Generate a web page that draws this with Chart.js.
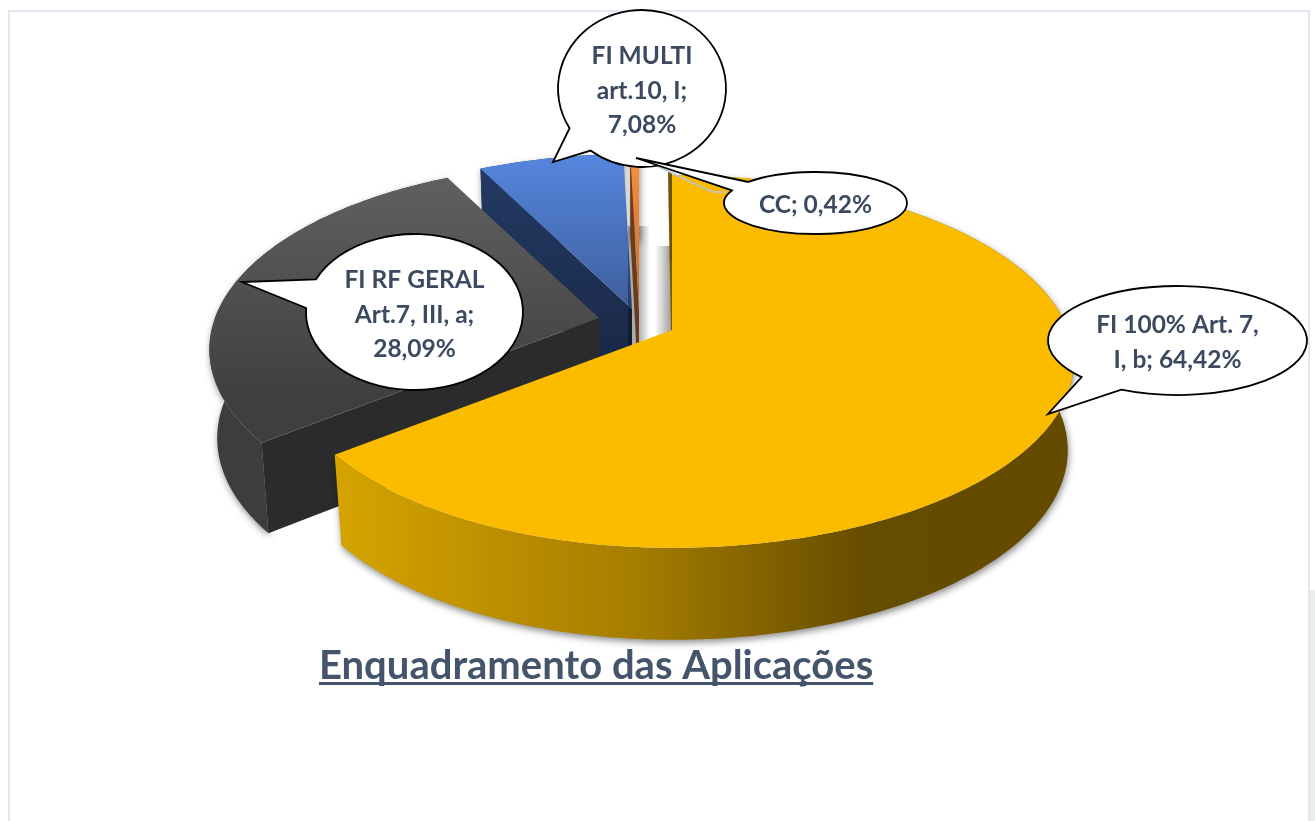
<!DOCTYPE html>
<html>
<head>
<meta charset="utf-8">
<title>Enquadramento das Aplicações</title>
<script src="https://cdn.jsdelivr.net/npm/chart.js@4"></script>
<style>
  html, body { margin: 0; padding: 0; background: #fff; overflow: hidden; }
  #wrap { position: relative; width: 1315px; height: 821px; }
  #frame { position: absolute; left: 8px; top: 10px; width: 1302px; height: 811px; border: solid #e4e7f2; border-width: 2px 2px 0 2px; box-sizing: border-box; }
  #edge { position: absolute; left: 1310px; top: 590px; width: 5px; height: 231px; background: #e8efea; }
  canvas { position: absolute; left: 0; top: 0; }
</style>
</head>
<body>
<div id="wrap">
  <div id="frame"></div>
  <div id="edge"></div>
  <canvas id="pieChart" width="1315" height="821"></canvas>
</div>
<script>
const categories = ['FI 100% Art. 7, I, b', 'FI RF GERAL Art.7, III, a', 'FI MULTI art.10, I', 'CC'];
const values = [64.42, 28.09, 7.08, 0.42];
const labelLines = [
    ['FI 100% Art. 7,', 'I, b; 64,42%'],
    ['FI RF GERAL', 'Art.7, III, a;', '28,09%'],
    ['FI MULTI', 'art.10, I;', '7,08%'],
    ['CC; 0,42%']
];
const titleText = 'Enquadramento das Aplicações';
const sliceColors = ['#fbbc00', '#595959', '#4f81d8', '#f58a3c'];

// fake 3d view of the pie
const view = { cx: 672, cy: 330, rxLeft: 384, rxRight: 396, ry: 181, k: 0.169, baseLeft: 0.98, baseRight: 0.985 };
const shifts = [[0, 0], [-73, -12], [-40, -21], [-33, -20]];
const drawOrder = [2, 3, 1, 0];
const textColor = '#3b4a60';

// speech bubbles: ellipse, tail tip, tail base points
const bubbles = [
    { cx: 1177.5, cy: 340.5, rx: 129.5, ry: 54.5, tip: [1048, 414], a: [1122, 389], b: [1082, 377], ys: [325, 360] },
    { cx: 414.5, cy: 312, rx: 108.5, ry: 78, tip: [242, 282], a: [306, 308], b: [315, 279], ys: [280, 315, 349] },
    { cx: 642, cy: 88.5, rx: 84, ry: 78.5, tip: [553, 162], a: [591, 150], b: [570, 128], ys: [56, 91, 125] },
    { cx: 815.5, cy: 203, rx: 91.5, ry: 31, tip: [636, 158], a: [729, 190], b: [742, 180], ys: [205] }
];

function project(i, a, lower) {
    // a is the arc angle from chart.js, null means the slice apex
    const X = a === null ? 0 : Math.cos(a);
    const Z = a === null ? 0 : Math.sin(a);
    const s = 1 / (1 - view.k * Z);
    let x = (X < 0 ? view.rxLeft : view.rxRight) * X * s;
    let y = view.ry * Z * s;
    if (lower) {
        x *= X < 0 ? view.baseLeft : view.baseRight;
        y += 88 + 4 * Z;
    }
    return [view.cx + shifts[i][0] + x, view.cy + shifts[i][1] + y];
}

function arcPoints(i, start, end, lower) {
    const n = Math.max(4, Math.ceil((end - start) * 60));
    const pts = [];
    for (let j = 0; j <= n; j++) {
        pts.push(project(i, start + (end - start) * j / n, lower));
    }
    return pts;
}

function fillPoly(ctx, pts, fill) {
    ctx.beginPath();
    pts.forEach((p, j) => j ? ctx.lineTo(p[0], p[1]) : ctx.moveTo(p[0], p[1]));
    ctx.closePath();
    ctx.fillStyle = fill;
    ctx.fill();
}

function vGrad(ctx, y0, y1, c0, c1) {
    const g = ctx.createLinearGradient(0, y0, 0, y1);
    g.addColorStop(0, c0);
    g.addColorStop(1, c1);
    return g;
}

function sideStyles(ctx) {
    const yellowWall = ctx.createLinearGradient(340, 0, 1070, 0);
    yellowWall.addColorStop(0, '#d5a300');
    yellowWall.addColorStop(0.4, '#a67e00');
    yellowWall.addColorStop(0.72, '#664c00');
    yellowWall.addColorStop(1, '#644b00');
    return [
        { wall: yellowWall, start: null, end: null, top: sliceColors[0] },
        { wall: '#3d3d3d', start: '#2b2b2b', end: null, top: vGrad(ctx, 180, 400, '#606060', '#3f3f3f') },
        { wall: '#1d2f52', start: vGrad(ctx, 170, 340, '#243a63', '#1a2a4a'), end: null, top: vGrad(ctx, 155, 305, '#5586de', '#3f5f9e') },
        { wall: '#5d3418', start: '#6b3c1c', end: null, top: vGrad(ctx, 160, 300, '#f78d3e', '#c8702f') }
    ];
}

function drawSlice(ctx, el, i, style) {
    const start = el.startAngle;
    const end = el.endAngle;
    const top = arcPoints(i, start, end, false);
    const low = arcPoints(i, start, end, true);
    const apexT = project(i, null, false);
    const apexL = project(i, null, true);

    ctx.save();
    ctx.shadowColor = 'rgba(0,0,0,0.45)';
    ctx.shadowBlur = 7;
    ctx.shadowOffsetX = 1;
    ctx.shadowOffsetY = 3;
    fillPoly(ctx, top.concat(low.slice().reverse()), style.wall);
    ctx.restore();

    if (style.end) fillPoly(ctx, [apexT, top[top.length - 1], low[low.length - 1], apexL], style.end);
    if (style.start) fillPoly(ctx, [apexT, top[0], low[0], apexL], style.start);
    fillPoly(ctx, [apexT].concat(top), style.top);
}

function drawGapShadows(ctx) {
    // soft shadows on the white gap behind the small slice and the big slice
    let g = ctx.createLinearGradient(628, 0, 650, 0);
    g.addColorStop(0, 'rgba(0,0,0,0.35)');
    g.addColorStop(0.5, 'rgba(0,0,0,0.3)');
    g.addColorStop(1, 'rgba(0,0,0,0)');
    ctx.fillStyle = g;
    ctx.fillRect(628, 226, 22, 120);
    g = ctx.createLinearGradient(655, 0, 672, 0);
    g.addColorStop(0, 'rgba(0,0,0,0)');
    g.addColorStop(1, 'rgba(0,0,0,0.4)');
    ctx.fillStyle = g;
    ctx.fillRect(655, 246, 17, 90);
}

const pie3d = {
    id: 'pie3d',
    beforeDatasetsDraw(chart) {
        const ctx = chart.ctx;
        const meta = chart.getDatasetMeta(0);
        const styles = sideStyles(ctx);
        drawOrder.forEach(i => {
            if (i === 3) drawGapShadows(ctx);
            if (i === 0) {
                // edge of the big slice seen almost side on
                ctx.strokeStyle = '#7a5c00';
                ctx.lineWidth = 4;
                ctx.beginPath();
                ctx.moveTo(670, 172);
                ctx.lineTo(673, 332);
                ctx.stroke();
            }
            drawSlice(ctx, meta.data[i].getProps(['startAngle', 'endAngle'], true), i, styles[i]);
        });
        return false;
    },
    afterDraw(chart) {
        const ctx = chart.ctx;
        const t = chart.titleBlock;

        // underline of the title
        ctx.save();
        ctx.font = Chart.helpers.toFont(chart.options.plugins.title.font).string;
        const w = ctx.measureText(titleText).width;
        ctx.fillStyle = '#44546a';
        ctx.fillRect(t.left, 682, w, 3);
        ctx.restore();

        // leader line of the small slice
        ctx.save();
        ctx.strokeStyle = '#b9c5d6';
        ctx.lineWidth = 1.5;
        ctx.beginPath();
        ctx.moveTo(655, 165);
        ctx.lineTo(712, 192);
        ctx.lineTo(726, 192);
        ctx.stroke();
        ctx.restore();

        bubbles.forEach((b, i) => {
            const a0 = Math.atan2((b.a[1] - b.cy) / b.ry, (b.a[0] - b.cx) / b.rx);
            const a1 = Math.atan2((b.b[1] - b.cy) / b.ry, (b.b[0] - b.cx) / b.rx);
            ctx.beginPath();
            ctx.ellipse(b.cx, b.cy, b.rx, b.ry, 0, a1, a0);
            ctx.lineTo(b.tip[0], b.tip[1]);
            ctx.closePath();
            ctx.fillStyle = '#fff';
            ctx.fill();
            ctx.strokeStyle = '#000';
            ctx.lineWidth = 1.8;
            ctx.lineJoin = 'miter';
            ctx.stroke();

            ctx.fillStyle = textColor;
            ctx.font = 'bold 24.5px Lato';
            ctx.textAlign = 'center';
            ctx.textBaseline = 'middle';
            labelLines[i].forEach((line, j) => ctx.fillText(line, b.cx, b.ys[j]));
        });
    }
};

new Chart(document.getElementById('pieChart').getContext('2d'), {
    type: 'pie',
    data: {
        labels: categories,
        datasets: [{
            data: values,
            backgroundColor: sliceColors,
            borderWidth: 0
        }]
    },
    options: {
        responsive: false,
        animation: false,
        layout: { padding: { left: 319, bottom: 131 } },
        plugins: {
            legend: { display: false },
            tooltip: { enabled: false },
            title: {
                display: true,
                text: titleText,
                position: 'bottom',
                align: 'start',
                color: '#44546a',
                padding: 0,
                font: { family: 'Lato', weight: 'bold', size: 40, lineHeight: 1.2 }
            }
        }
    },
    plugins: [pie3d]
});
</script>
</body>
</html>
